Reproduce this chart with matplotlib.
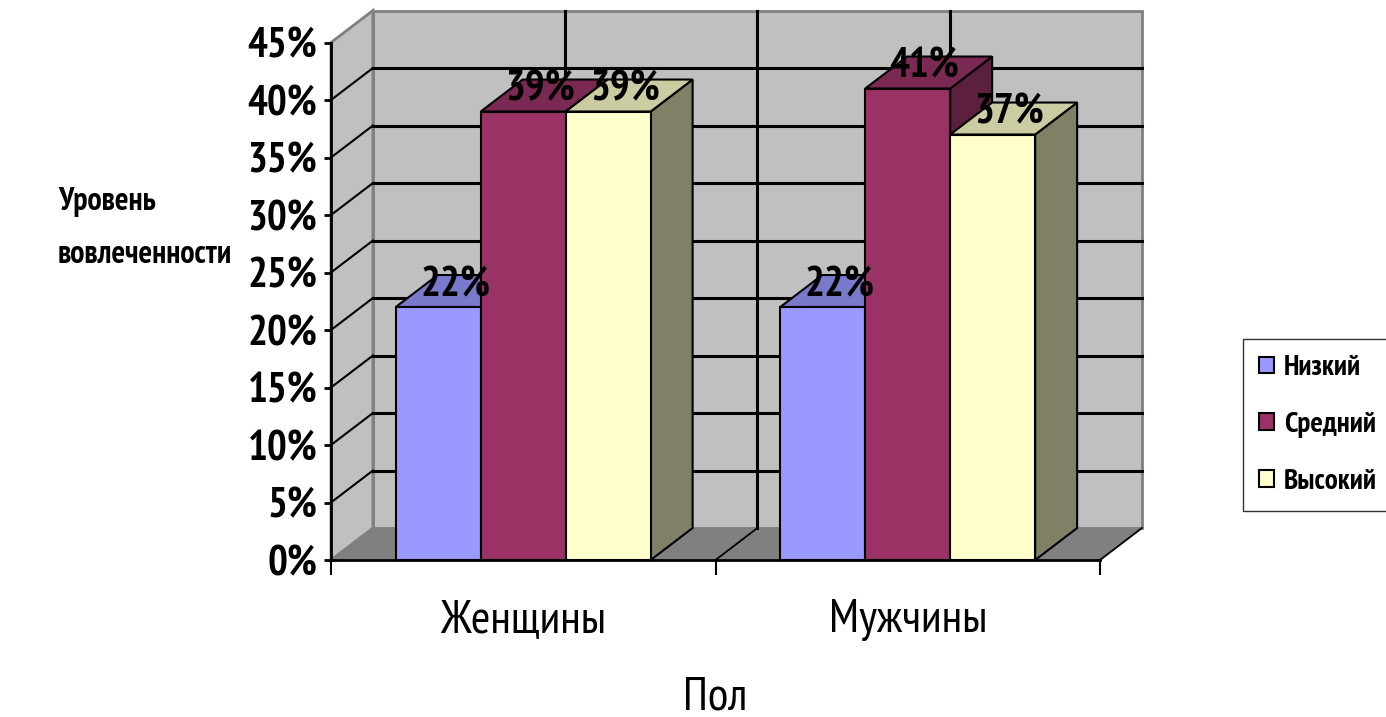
import matplotlib
matplotlib.use("Agg")
import matplotlib.pyplot as plt
from matplotlib.patches import Polygon, Patch
from matplotlib.ticker import PercentFormatter
from matplotlib import font_manager

# data
categories = ['Женщины', 'Мужчины']
series = ['Низкий', 'Средний', 'Высокий']
low = [22, 22]
mid = [39, 41]
high = [39, 37]
values = [low, mid, high]

# colours: front, top, side
front_col = ['#9999FF', '#993366', '#FFFFCC']
top_col = ['#7A7ACC', '#7A2952', '#CCCCA3']
side_col = ['#5C5C99', '#5C1F3D', '#808066']

names = {f.name for f in font_manager.fontManager.ttflist}
wanted = ['PT Sans Narrow', 'Roboto Condensed', 'Fira Sans Condensed', 'Liberation Sans']
narrow = next(n for n in wanted + ['DejaVu Sans'] if n in names)
plt.rcParams['font.family'] = [narrow, 'DejaVu Sans']

fig = plt.figure(figsize=(13.86, 7.17), dpi=100)
ax = fig.add_axes([331 / 1386, 1 - 560 / 717, 769 / 1386, 517.5 / 717])
ax.set_xlim(0, 2)
ax.set_ylim(0, 45)
ax.patch.set_visible(False)

DX, DY = 0.109, 2.78  # depth offset in data units
ymax = 45

def poly(pts, fc, ec='black', lw=1.5, z=1):
    ax.add_patch(Polygon(pts, closed=True, facecolor=fc, edgecolor=ec,
                         linewidth=lw, zorder=z, clip_on=False, joinstyle='miter'))

# walls and floor
poly([(DX, DY), (2 + DX, DY), (2 + DX, ymax + DY), (DX, ymax + DY)], '#C0C0C0', '#808080', 2, 0.5)
poly([(0, 0), (DX, DY), (DX, ymax + DY), (0, ymax)], '#C0C0C0', '#808080', 2, 0.5)
poly([(0, 0), (2, 0), (2 + DX, DY), (DX, DY)], '#808080', '#808080', 1, 0.6)

for y in range(5, ymax, 5):
    ax.plot([DX, 2 + DX], [y + DY, y + DY], color='black', lw=2.2, zorder=0.8, clip_on=False)
    ax.plot([0, DX], [y, y + DY], color='black', lw=1.5, zorder=0.8, clip_on=False)
for x in [0.5, 1.0, 1.5]:
    ax.plot([x + DX, x + DX], [DY, ymax + DY], color='black', lw=2.2, zorder=0.8, clip_on=False)
for x in [1.0, 2.0]:
    ax.plot([x, x + DX], [0, DY], color='black', lw=1.3, zorder=0.9, clip_on=False)

# bars
bw = 0.221
centers = [0.5, 1.5]
for g, c in enumerate(centers):
    for i in range(3):
        v = values[i][g]
        x0 = c + (i - 1) * bw - bw / 2
        x1 = x0 + bw
        poly([(x1, 0), (x1 + DX, DY), (x1 + DX, v + DY), (x1, v)], side_col[i], z=2)
        poly([(x0, v), (x1, v), (x1 + DX, v + DY), (x0 + DX, v + DY)], top_col[i], z=2)
        poly([(x0, 0), (x1, 0), (x1, v), (x0, v)], front_col[i], z=2)
        ax.annotate(f'{v}%', (x0 + bw / 2 + DX / 2, v + DY / 2), xytext=(-3, 4),
                    textcoords='offset points', ha='center', va='center',
                    fontsize=30, fontweight='bold', zorder=5, annotation_clip=False)

# axes
for s in ['top', 'right']:
    ax.spines[s].set_visible(False)
for s in ['left', 'bottom']:
    ax.spines[s].set_linewidth(2)
    ax.spines[s].set_zorder(3)
ax.set_yticks(range(0, ymax + 1, 5))
ax.yaxis.set_major_formatter(PercentFormatter(decimals=0))
ax.tick_params(axis='y', length=5, width=2, pad=5, labelsize=30)
for t in ax.get_yticklabels():
    t.set_fontweight('bold')
ax.set_xticks([0, 1, 2])
ax.set_xticklabels([])
ax.tick_params(axis='x', which='major', length=11, width=1.5)
ax.set_xticks(centers, minor=True)
ax.set_xticklabels(categories, minor=True, fontsize=34)
ax.tick_params(axis='x', which='minor', length=0, pad=28)

ax.set_xlabel('Пол', fontsize=34, labelpad=26)
ax.set_ylabel('Уровень\nвовлеченности', rotation=0, fontsize=23, fontweight='bold',
              ha='left', va='center', linespacing=2.0)
ax.yaxis.set_label_coords(-0.355, 0.64)

handles = [Patch(facecolor=front_col[i], edgecolor='black', linewidth=1.5, label=series[i]) for i in range(3)]
fig.legend(handles=handles, loc='center', bbox_to_anchor=(1318 / 1386, 1 - 425 / 717),
           frameon=True, fancybox=False, edgecolor='black',
           prop={'weight': 'bold', 'size': 21}, handlelength=0.5, handleheight=0.5,
           handletextpad=0.35, labelspacing=1.05, borderpad=0.55, borderaxespad=0)

fig.savefig('out.png', dpi=100)
